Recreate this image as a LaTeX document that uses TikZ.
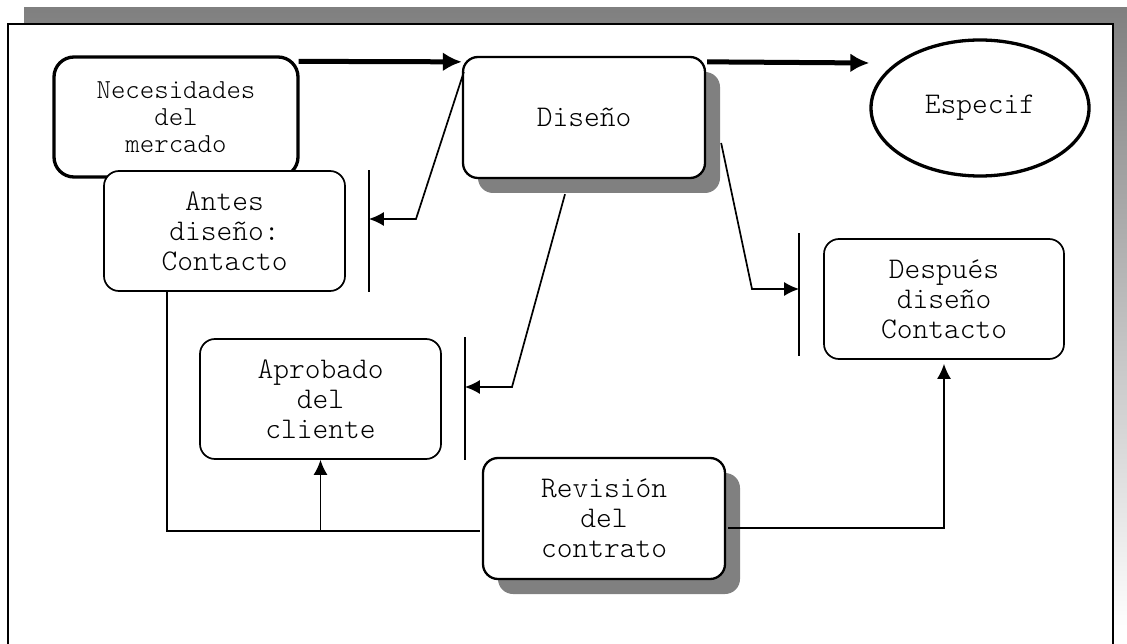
\documentclass[tikz,border=0pt]{standalone}
\usepackage{fontspec}
\newfontfamily\cour{Latin Modern Mono Light}
\usetikzlibrary{arrows.meta,calc,shapes.geometric,shadows}
\definecolor{shade}{HTML}{808080}
\tikzset{
  box/.style={draw, fill=white, rounded corners=15pt, inner sep=0pt,
    minimum width=241pt, minimum height=120pt, align=center, line width=1.7pt,
    font=\cour\fontsize{30}{30}\selectfont},
  boldbox/.style={box, line width=3.3pt, rounded corners=20pt},
  shadebox/.style={box, line width=2.3pt,
    drop shadow={shadow xshift=15pt, shadow yshift=-15pt, fill=shade, opacity=1}},
  oval/.style={ellipse, draw, fill=white, line width=3.3pt, inner sep=0pt,
    minimum width=218pt, minimum height=136pt, font=\cour\fontsize{30}{30}\selectfont},
  link/.style={line width=1.7pt, -{Latex[length=15pt,width=14pt]}},
  plain/.style={line width=1.7pt},
  bar/.style={line width=1.5pt},
  flow/.style={line width=5pt, -{Latex[length=19pt,width=19pt]}}
}
\begin{document}
\begin{tikzpicture}[x=1pt,y=-1pt]
  \useasboundingbox (0,0) rectangle (1127,644);
  \clip (0,0) rectangle (1127,644);
  % page frame with its shade
  \fill[shade] (24,8) rectangle (1127,632);
  \draw[line width=2pt, fill=white] (8,24) rectangle (1113,670);

  % boxes
  \node[boldbox, minimum width=244pt, font=\cour\fontsize{27.5}{27}\selectfont]
    (nec) at (176,117) {Necesidades\\del\\mercado};
  \node[box] (antes) at (224.5,231) {Antes\\diseño:\\Contacto};
  \node[shadebox, minimum width=242pt, minimum height=121pt]
    (diseno) at (584,117.5) {\raisebox{-7pt}{Diseño}};
  \node[oval] (especif) at (980,108) {Especif};
  \node[box, minimum width=240pt] (despues) at (944,299) {Después\\diseño\\Contacto};
  \node[box] (aprobado) at (320.5,399) {Aprobado\\del\\cliente};
  \node[shadebox, minimum width=242pt, minimum height=121pt]
    (revision) at (604,518.5) {Revisión\\del\\contrato};

  % main flow
  \draw[flow] ($(nec.north east)+(-1,6)$) -- ($(diseno.north west)+(0,6)$);
  \draw[flow] ($(diseno.north east)+(1,6)$) -- ($(especif.west)+(0,-45)$);

  % bars in front of the contact boxes
  \coordinate (b1t) at ($(antes.north east)+(23,0)$);
  \coordinate (b1b) at ($(antes.south east)+(23,0)$);
  \coordinate (b2t) at ($(aprobado.north east)+(23,-1)$);
  \coordinate (b2b) at ($(aprobado.south east)+(23,0)$);
  \coordinate (b3t) at ($(despues.north west)+(-24,-5)$);
  \coordinate (b3b) at ($(despues.south west)+(-24,-4)$);
  \draw[bar] (b1t) -- (b1b);
  \draw[bar] (b2t) -- (b2b);
  \draw[bar] (b3t) -- (b3b);

  % branches out of the design box
  \coordinate (k1) at (416,219);
  \coordinate (k2) at (512,387);
  \coordinate (k3) at (752,289);
  \draw[link] ($(diseno.north west)+(2,16)$) -- (k1) -- (b1t |- k1);
  \draw[link] ($(diseno.south)+(-19,15)$) -- (k2) -- (b2t |- k2);
  \draw[link] ($(diseno.east)+(15,25.5)$) -- (k3) -- (b3t |- k3);

  % contract review links
  \coordinate (r1) at ($(revision.west)+(-2,12.5)$);
  \draw[plain] ($(antes.south west)+(64,0)$) |- (r1);
  \draw[link] (aprobado.south |- r1) -- (aprobado.south);
  \draw[link] ($(revision.east)+(2,9.5)$) -| ($(despues.south)+(0,4)$);
\end{tikzpicture}
\end{document}
